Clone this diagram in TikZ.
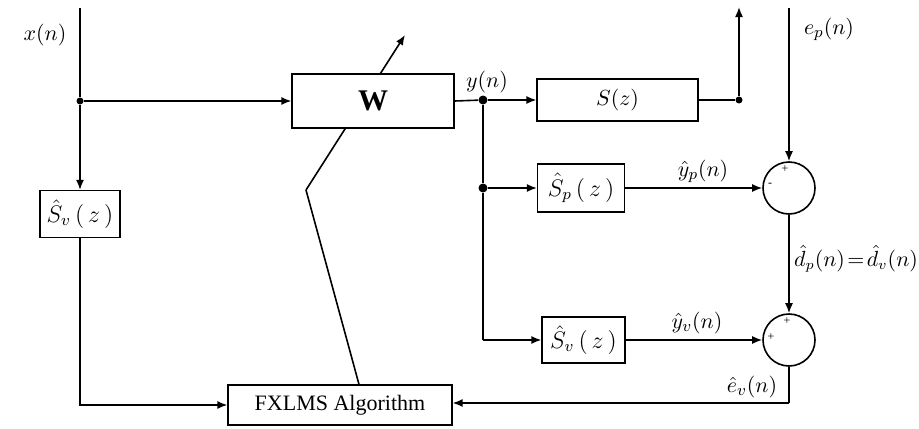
\documentclass[tikz,border=0pt]{standalone}
\usepackage{fontspec}
\setmainfont{Liberation Serif}
\usetikzlibrary{arrows.meta,backgrounds}

\tikzset{
  block/.style={draw,line width=0.6pt,fill=white,inner sep=0pt,font=\fontsize{11}{13}\selectfont},
  sblock/.style={block,font=\fontsize{11.5}{14}\selectfont},
  sumnode/.style={draw,circle,line width=0.8pt,minimum size=26pt,inner sep=0pt},
  joint/.style={circle,fill,inner sep=0pt,minimum size=4.5pt},
  sig/.style={line width=0.8pt},
  arr/.style={sig,-{Latex[length=5pt,width=4pt]}},
  lbl/.style={font=\fontsize{11}{13}\selectfont,inner sep=1pt},
  sgn/.style={font=\fontsize{6}{7}\selectfont,inner sep=0pt},
}

\begin{document}
\begin{tikzpicture}[x=0.5pt,y=-0.5pt]
    \useasboundingbox (0,0) rectangle (919,428);
    % blocks
    \node[block,minimum width=81pt,minimum height=27pt] (W) at (373,101) {\fontsize{15}{17}\selectfont\textbf{W}};
    \node[block,minimum width=80.5pt,minimum height=21pt] (Sz) at (617.5,100) {$S(z)$};
    \node[sblock,minimum width=43.5pt,minimum height=24pt] (Sp) at (581,188) {$\hat{S}_{p}\,(\,z\,)$};
    \node[sblock,minimum width=41.5pt,minimum height=23pt] (Sv) at (583.5,340) {$\hat{S}_{v}\,(\,z\,)$};
    \node[sblock,minimum width=40pt,minimum height=23.5pt] (Svl) at (80,214) {$\hat{S}_{v}\,(\,z\,)$};
    \node[block,minimum width=112pt,minimum height=20pt] (FX) at (340,405) {FXLMS Algorithm};
    % summing junctions
    \node[sumnode] (c1) at (789,188) {};
    \node[sumnode] (c2) at (789,340) {};
    \node[sgn] (c1t) at (785,169) {+};
    \node[sgn] (c1l) at (770,185) {-};
    \node[sgn] (c2t) at (787,321) {+};
    \node[sgn] (c2l) at (771,337) {+};
    % branch points
    \coordinate (xtop) at (80,8);
    \node[joint,minimum size=3.5pt] (xj) at (80,101) {};
    \node[joint] (yj) at (483,100) {};
    \node[joint] (pj) at (483,188) {};
    \coordinate (vj) at (483,340);
    \node[joint,minimum size=3.5pt] (sj) at (739,100) {};
    \coordinate (stop) at (739,7);
    \coordinate (etop) at (789,8);
    \coordinate (ebot) at (789,403);
    \coordinate (kink) at (306,190);
    \coordinate (tip) at (405,35);
    % signals
    \draw[sig] (xtop) -- (xj);
    \draw[arr] (xj) -- (W.west);
    \draw[arr] (xj) -- (Svl.north);
    \draw[arr] (Svl.south) |- (FX.west);
    \draw[sig] (W.east) -- (yj);
    \draw[arr] (yj) -- (Sz.west);
    \draw[sig] (Sz.east) -- (sj);
    \draw[arr] (sj) -- (stop);
    \draw[sig] (yj) -- (pj) -- (vj);
    \draw[arr] (pj) -- (Sp.west);
    \draw[arr] (vj) -- (Sv.west);
    \draw[arr] (Sp.east) -- (c1.west);
    \draw[arr] (Sv.east) -- (c2.west);
    \draw[arr] (etop) -- (c1.north);
    \draw[arr] (c1.south) -- (c2.north);
    \draw[sig] (c2.south) -- (ebot);
    \draw[arr] (ebot) -- (ebot -| FX.east);
    % adaptation
    \begin{scope}[on background layer]
      \draw[sig] ([xshift=9.5pt]FX.north) -- (kink);
      \draw[arr] (kink) -- (tip);
    \end{scope}
    % labels
    \node[lbl] (lx) at (45,35) {$x(n)$};
    \node[lbl] (ly) at (487,82) {$y(n)$};
    \node[lbl] (le) at (829,29) {$e_p(n)$};
    \node[lbl] (lyp) at (703,171) {$\hat{y}_p(n)$};
    \node[lbl] (lyv) at (697,323) {$\hat{y}_v(n)$};
    \node[lbl,font=\fontsize{10.5}{12}\selectfont] (ld) at (856,259) {$\hat{d}_p(n)\!=\!\hat{d}_v(n)$};
    \node[lbl] (lev) at (752,387) {$\hat{e}_v(n)$};
\end{tikzpicture}
\end{document}
